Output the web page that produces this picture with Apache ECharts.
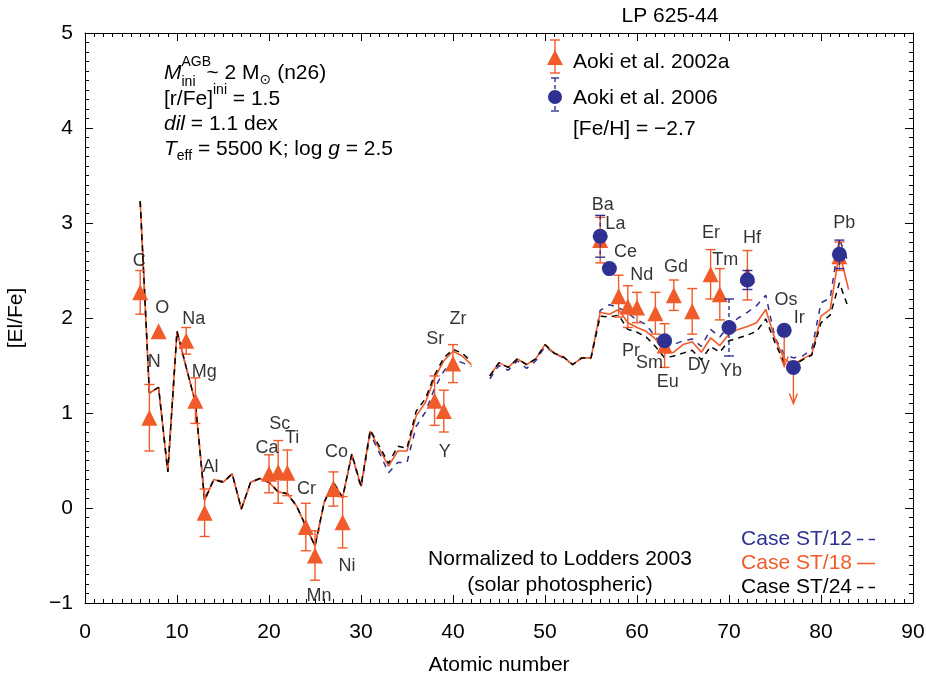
<!DOCTYPE html>
<html>
<head>
<meta charset="utf-8">
<title>LP 625-44</title>
<script src="https://cdn.jsdelivr.net/npm/echarts@6/dist/echarts.min.js"></script>
<style>
  html, body { margin: 0; padding: 0; background: #fff; }
  #chart { width: 926px; height: 678px; }
</style>
</head>
<body>
<div id="chart"></div>
<script>
// model curves, one value per atomic number (Tc, Z=43, not plotted)
var modelZ = [6, 7, 8, 9, 10, 11, 12, 13, 14, 15, 16, 17, 18, 19, 20, 21, 22, 23, 24, 25,
  26, 27, 28, 29, 30, 31, 32, 33, 34, 35, 36, 37, 38, 39, 40, 41, 42, 43, 44, 45,
  46, 47, 48, 49, 50, 51, 52, 53, 54, 55, 56, 57, 58, 59, 60, 61, 62, 63, 64, 65,
  66, 67, 68, 69, 70, 71, 72, 73, 74, 75, 76, 77, 78, 79, 80, 81, 82, 83];

var caseST12 = [3.23, 1.21, 1.27, 0.38, 1.86, 1.48, 1.11, 0.10, 0.30, 0.28,
  0.36, -0.01, 0.27, 0.31, 0.27, 0.17, 0.15, 0.02, -0.19, -0.40,
  0.06, 0.27, 0.11, 0.56, 0.21, 0.78, 0.58, 0.37, 0.48, 0.48,
  0.86, 1.01, 1.26, 1.44, 1.56, 1.53, 1.49, null, 1.36, 1.50,
  1.45, 1.55, 1.47, 1.55, 1.70, 1.63, 1.58, 1.51, 1.58, 1.58,
  2.08, 2.14, 2.11, 2.05, 1.98, 1.93, 1.80, 1.70, 1.72, 1.76,
  1.78, 1.70, 1.88, 1.80, 1.92, 2.00, 2.06, 2.13, 2.24, 1.79,
  1.62, 1.58, 1.60, 1.67, 2.16, 2.21, 2.83, 2.58];

var caseST18 = [3.23, 1.21, 1.27, 0.38, 1.86, 1.48, 1.11, 0.08, 0.30, 0.27,
  0.36, -0.01, 0.27, 0.31, 0.27, 0.17, 0.15, 0.02, -0.19, -0.40,
  0.06, 0.27, 0.11, 0.57, 0.23, 0.81, 0.62, 0.44, 0.60, 0.60,
  0.97, 1.11, 1.37, 1.55, 1.65, 1.60, 1.51, null, 1.39, 1.53,
  1.48, 1.57, 1.51, 1.57, 1.72, 1.63, 1.59, 1.51, 1.58, 1.58,
  2.06, 2.04, 2.09, 1.95, 1.90, 1.86, 1.78, 1.63, 1.64, 1.72,
  1.75, 1.64, 1.79, 1.71, 1.83, 1.88, 1.91, 1.95, 2.09, 1.78,
  1.57, 1.51, 1.57, 1.62, 2.02, 2.09, 2.69, 2.30];

var caseST24 = [3.23, 1.21, 1.27, 0.38, 1.86, 1.48, 1.11, 0.08, 0.30, 0.27,
  0.36, -0.01, 0.27, 0.31, 0.27, 0.17, 0.15, 0.02, -0.19, -0.40,
  0.06, 0.27, 0.11, 0.57, 0.23, 0.82, 0.65, 0.47, 0.65, 0.63,
  1.02, 1.15, 1.40, 1.58, 1.67, 1.63, 1.54, null, 1.39, 1.53,
  1.48, 1.57, 1.51, 1.57, 1.72, 1.63, 1.59, 1.51, 1.58, 1.58,
  2.02, 2.01, 2.03, 1.88, 1.85, 1.80, 1.70, 1.58, 1.60, 1.63,
  1.66, 1.56, 1.70, 1.64, 1.76, 1.79, 1.82, 1.86, 1.99, 1.74,
  1.53, 1.50, 1.56, 1.61, 1.95, 2.03, 2.37, 2.10];

// Aoki et al. 2002a: Z, [El/Fe], error
var aoki02Z   = [6, 7, 8, 11, 12, 13, 20, 21, 22, 24, 25, 27, 28, 38, 39, 40, 56, 58, 59, 60, 62, 63, 64, 66, 68, 69, 72, 82];
var aoki02Val = [2.27, 0.95, 1.86, 1.76, 1.13, -0.05, 0.36, 0.38, 0.37, -0.20, -0.50, 0.20, -0.15, 1.13, 1.02, 1.52,
  2.82, 2.23, 2.12, 2.11, 2.05, 1.71, 2.24, 2.07, 2.46, 2.25, 2.45, 2.65];
var aoki02Err = [0.23, 0.35, 0, 0.14, 0.24, 0.25, 0.20, 0.33, 0.24, 0.25, 0.26, 0.18, 0.27, 0.26, 0.22, 0.20,
  0.24, 0.22, 0.22, 0.16, 0.22, 0.23, 0.16, 0.24, 0.26, 0.27, 0.26, 0.15];
// Aoki et al. 2002a upper limits
var aoki02LimZ   = [76, 77];
var aoki02LimVal = [1.86, 1.47];

// Aoki et al. 2006
var aoki06Z   = [56, 57, 63, 70, 72, 76, 77, 82];
var aoki06Val = [2.86, 2.52, 1.76, 1.90, 2.40, 1.87, 1.48, 2.67];
var aoki06Err = [0.22, 0, 0, 0.30, 0.10, 0, 0, 0.15];

// element labels
var elemNames = ['C', 'N', 'O', 'Na', 'Mg', 'Al', 'Ca', 'Sc', 'Ti', 'Cr', 'Mn', 'Co', 'Ni', 'Sr', 'Zr', 'Y',
  'Ba', 'La', 'Ce', 'Nd', 'Pr', 'Sm', 'Eu', 'Gd', 'Dy', 'Er', 'Tm', 'Yb', 'Hf', 'Os', 'Ir', 'Pb'];
var elemZ = [5.9, 7.52, 8.39, 11.83, 12.95, 13.65, 19.79, 21.17, 22.51, 24.07, 25.44, 27.33, 28.48, 38.08, 40.53, 39.09,
  56.28, 57.65, 58.74, 60.51, 59.36, 61.35, 63.33, 64.24, 66.7, 68.05, 69.6, 70.22, 72.5, 76.19, 77.63, 82.52];
var elemY = [2.6, 1.54, 2.1, 1.99, 1.43, 0.43, 0.63, 0.88, 0.74, 0.2, -0.93, 0.59, -0.61, 1.78, 1.99, 0.59,
  3.19, 2.99, 2.69, 2.45, 1.65, 1.53, 1.33, 2.54, 1.5, 2.89, 2.61, 1.44, 2.84, 2.19, 2.0, 3.0];

var RED = '#f15a29';
var BLUE = '#2e3192';
var FONT = '"Liberation Sans", "DejaVu Sans", Arial, sans-serif';

function pairs(xs, ys) {
  return xs.map(function (x, i) { return [x, ys[i]]; });
}
function triples(xs, ys, es) {
  return xs.map(function (x, i) { return [x, ys[i], es[i]]; });
}

function errorBars(data, color, dash, z) {
  return {
    type: 'custom',
    silent: true,
    z: z,
    data: data,
    encode: { x: 0, y: 1 },
    renderItem: function (params, api) {
      var e = api.value(2);
      if (!e) return null;
      var top = api.coord([api.value(0), api.value(1) + e]);
      var bot = api.coord([api.value(0), api.value(1) - e]);
      var cap = 5;
      var st = { stroke: color, lineWidth: 1.4, fill: null, lineDash: dash };
      var capSt = { stroke: color, lineWidth: 1.4, fill: null };
      return {
        type: 'group',
        children: [
          { type: 'line', shape: { x1: top[0], y1: top[1], x2: bot[0], y2: bot[1] }, style: st },
          { type: 'line', shape: { x1: top[0] - cap, y1: top[1], x2: top[0] + cap, y2: top[1] }, style: capSt },
          { type: 'line', shape: { x1: bot[0] - cap, y1: bot[1], x2: bot[0] + cap, y2: bot[1] }, style: capSt }
        ]
      };
    }
  };
}

// upper limit arrows, length in dex
function limitArrows(data, color, z) {
  return {
    type: 'custom',
    silent: true,
    z: z,
    data: data,
    encode: { x: 0, y: 1 },
    renderItem: function (params, api) {
      var p0 = api.coord([api.value(0), api.value(1)]);
      var p1 = api.coord([api.value(0), api.value(1) - 0.37]);
      var st = { stroke: color, lineWidth: 1.4, fill: null };
      return {
        type: 'group',
        children: [
          { type: 'line', shape: { x1: p0[0], y1: p0[1], x2: p1[0], y2: p1[1] }, style: st },
          { type: 'polyline', shape: { points: [[p1[0] - 4, p1[1] - 10], [p1[0], p1[1]], [p1[0] + 4, p1[1] - 10]] }, style: st }
        ]
      };
    }
  };
}

// lay out a row of text pieces (sub/superscripts) left to right
var measure = document.createElement('canvas').getContext('2d');
function textRow(x, y, parts) {
  var out = [];
  parts.forEach(function (p) {
    var size = p.size || 21;
    var style = p.italic ? 'italic' : 'normal';
    measure.font = style + ' ' + size + 'px ' + FONT;
    out.push({
      type: 'text', x: x + (p.dx || 0), y: y + (p.dy || 0), z: 100,
      style: { text: p.t, fontSize: size, fontFamily: FONT, fontStyle: style, fill: p.color || '#000', verticalAlign: 'middle' }
    });
    if (!p.keep) x += measure.measureText(p.t).width + (p.dx || 0);
  });
  return out;
}

var graphics = [].concat(
  textRow(164, 73, [
    { t: 'M', italic: true },
    { t: 'AGB', size: 14, dy: -11, keep: true },
    { t: 'ini', size: 14, dy: 9 },
    { t: '~ 2 M', dx: 11 },
    { t: '\u2299', size: 14, dy: 7 },
    { t: ' (n26)' }
  ]),
  textRow(164, 99, [
    { t: '[r/Fe]' },
    { t: 'ini', size: 14, dy: -9 },
    { t: ' = 1.5' }
  ]),
  textRow(164, 124, [
    { t: 'dil', italic: true },
    { t: ' = 1.1 dex' }
  ]),
  textRow(164, 149, [
    { t: 'T', italic: true },
    { t: 'eff', size: 14, dy: 7 },
    { t: ' = 5500 K; log ' },
    { t: 'g', italic: true },
    { t: ' = 2.5' }
  ]),
  [
    { type: 'text', x: 670, y: 16, z: 100, style: { text: 'LP 625-44', fontSize: 21, fontFamily: FONT, fill: '#000', align: 'center', verticalAlign: 'middle' } },
    { type: 'text', x: 560, y: 559, z: 100, style: { text: 'Normalized to Lodders 2003', fontSize: 21, fontFamily: FONT, fill: '#000', align: 'center', verticalAlign: 'middle' } },
    { type: 'text', x: 560, y: 585, z: 100, style: { text: '(solar photospheric)', fontSize: 21, fontFamily: FONT, fill: '#000', align: 'center', verticalAlign: 'middle' } },
    // legend for the observations
    { type: 'line', z: 100, shape: { x1: 555, y1: 40, x2: 555, y2: 73 }, style: { stroke: RED, lineWidth: 1.4 } },
    { type: 'line', z: 100, shape: { x1: 550, y1: 40, x2: 560, y2: 40 }, style: { stroke: RED, lineWidth: 1.4 } },
    { type: 'line', z: 100, shape: { x1: 550, y1: 73, x2: 560, y2: 73 }, style: { stroke: RED, lineWidth: 1.4 } },
    { type: 'polygon', z: 101, shape: { points: [[555, 50], [563, 65], [547, 65]] }, style: { fill: RED } },
    { type: 'line', z: 100, shape: { x1: 555, y1: 78, x2: 555, y2: 111 }, style: { stroke: BLUE, lineWidth: 1.4, lineDash: [4, 3] } },
    { type: 'line', z: 100, shape: { x1: 551, y1: 78, x2: 559, y2: 78 }, style: { stroke: BLUE, lineWidth: 1.4 } },
    { type: 'line', z: 100, shape: { x1: 551, y1: 111, x2: 559, y2: 111 }, style: { stroke: BLUE, lineWidth: 1.4 } },
    { type: 'circle', z: 101, shape: { cx: 555, cy: 97, r: 7 }, style: { fill: BLUE } },
    { type: 'text', x: 573, y: 62, z: 100, style: { text: 'Aoki et al. 2002a', fontSize: 21, fontFamily: FONT, fill: '#000', verticalAlign: 'middle' } },
    { type: 'text', x: 573, y: 98, z: 100, style: { text: 'Aoki et al. 2006', fontSize: 21, fontFamily: FONT, fill: '#000', verticalAlign: 'middle' } },
    { type: 'text', x: 573, y: 129, z: 100, style: { text: '[Fe/H] = \u22122.7', fontSize: 21, fontFamily: FONT, fill: '#000', verticalAlign: 'middle' } }
  ]
);

var tickCommon = {
  axisLine: { show: true, onZero: false, lineStyle: { color: '#000', width: 1 } },
  axisTick: { show: true, inside: true, length: 8, lineStyle: { color: '#000' } },
  minorTick: { show: true, splitNumber: 10, length: 4, lineStyle: { color: '#000' } },
  splitLine: { show: false },
  minorSplitLine: { show: false }
};

var chart = echarts.init(document.getElementById('chart'));
chart.setOption({
  animation: false,
  backgroundColor: '#fff',
  grid: { left: 85, right: 13, top: 33, bottom: 75, containLabel: false, outerBoundsMode: 'none' },
  legend: {
    data: [
      { name: 'Case ST/12', icon: 'path://M0,0h6v1.4h-6zM11,0h6v1.4h-6z', textStyle: { color: BLUE } },
      { name: 'Case ST/18', icon: 'path://M0,0h17v1.4h-17z', textStyle: { color: RED } },
      { name: 'Case ST/24', icon: 'path://M0,0h6v1.4h-6zM11,0h6v1.4h-6z', textStyle: { color: '#000' } }
    ],
    orient: 'vertical',
    align: 'right',
    right: 46,
    top: 524,
    itemWidth: 18,
    itemHeight: 2,
    itemGap: 3,
    textStyle: { fontSize: 21, fontFamily: FONT },
    selectedMode: false
  },
  xAxis: [
    Object.assign({
      type: 'value', min: 0, max: 90, interval: 10,
      name: 'Atomic number', nameLocation: 'middle', nameGap: 52,
      nameTextStyle: { fontSize: 21, fontFamily: FONT, color: '#000' },
      axisLabel: { fontSize: 21, fontFamily: FONT, color: '#000', margin: 19 }
    }, tickCommon),
    Object.assign({
      type: 'value', min: 0, max: 90, interval: 10, position: 'top',
      axisLabel: { show: false }
    }, tickCommon)
  ],
  yAxis: [
    Object.assign({
      type: 'value', min: -1, max: 5, interval: 1,
      name: '[El/Fe]', nameLocation: 'middle', nameGap: 58, nameRotate: 90,
      nameTextStyle: { fontSize: 21, fontFamily: FONT, color: '#000' },
      axisLabel: {
        fontSize: 21, fontFamily: FONT, color: '#000', margin: 12,
        formatter: function (v) { return String(v).replace('-', '\u2212'); }
      }
    }, tickCommon),
    Object.assign({
      type: 'value', min: -1, max: 5, interval: 1, position: 'right',
      axisLabel: { show: false }
    }, tickCommon)
  ],
  graphic: graphics,
  series: [
    {
      name: 'Case ST/12', type: 'line', data: pairs(modelZ, caseST12), symbol: 'none', z: 2,
      lineStyle: { color: BLUE, width: 1.5, type: [6, 6] }, itemStyle: { color: BLUE }
    },
    {
      name: 'Case ST/18', type: 'line', data: pairs(modelZ, caseST18), symbol: 'none', z: 2,
      lineStyle: { color: RED, width: 1.6 }, itemStyle: { color: RED }
    },
    {
      name: 'Case ST/24', type: 'line', data: pairs(modelZ, caseST24), symbol: 'none', z: 2,
      lineStyle: { color: '#000', width: 1.5, type: [6, 5] }, itemStyle: { color: '#000' }
    },
    errorBars(triples(aoki02Z, aoki02Val, aoki02Err), RED, null, 3),
    limitArrows(pairs(aoki02LimZ, aoki02LimVal), RED, 3),
    {
      name: 'Aoki et al. 2002a', type: 'scatter', data: pairs(aoki02Z, aoki02Val), z: 4,
      symbol: 'triangle', symbolSize: [16, 16], itemStyle: { color: RED, opacity: 1 }
    },
    errorBars(triples(aoki06Z, aoki06Val, aoki06Err), BLUE, [4, 3], 5),
    {
      name: 'Aoki et al. 2006', type: 'scatter', data: pairs(aoki06Z, aoki06Val), z: 6,
      symbol: 'circle', symbolSize: 15, itemStyle: { color: BLUE, opacity: 1 }
    },
    {
      type: 'scatter', z: 7, silent: true, symbolSize: 0,
      data: elemNames.map(function (n, i) { return { name: n, value: [elemZ[i], elemY[i]] }; }),
      label: { show: true, position: 'inside', formatter: '{b}', fontSize: 18, fontFamily: FONT, color: '#000' }
    }
  ]
});
</script>
</body>
</html>
